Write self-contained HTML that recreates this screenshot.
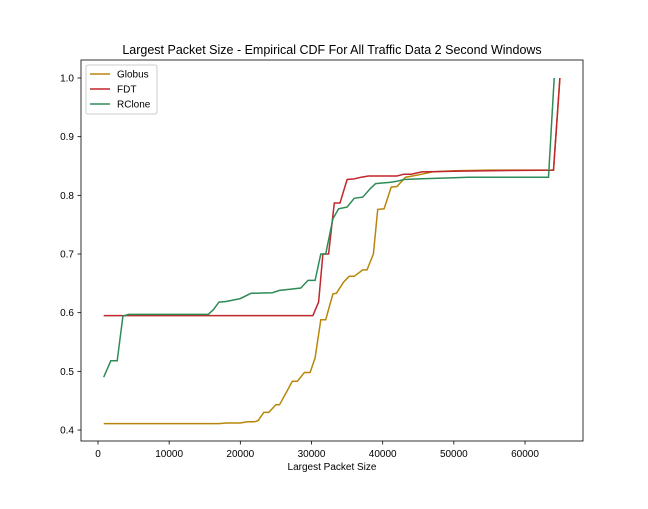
<!DOCTYPE html>
<html><head><meta charset="utf-8"><style>
body{margin:0;background:#fff;font-family:"Liberation Sans","DejaVu Sans",sans-serif}
</style></head><body>
<svg id="c" width="648" height="504" xmlns="http://www.w3.org/2000/svg" font-family="Liberation Sans, DejaVu Sans, sans-serif">
<rect width="648" height="504" fill="#fff"/>
<text x="332" y="54" text-anchor="middle" font-size="12.5">Largest Packet Size - Empirical CDF For All Traffic Data 2 Second Windows</text>
<text x="332" y="470" text-anchor="middle" font-size="10">Largest Packet Size</text>
<g id="ticks"></g>
<g id="lines"></g>
<rect x="81" y="60" width="502" height="381" fill="none" stroke="#000" stroke-width="0.8"/>
<g>
<rect x="86" y="65" width="71" height="49" fill="#fff" stroke="#ccc" rx="2"/>
<g id="leg"></g>
</g>
</svg>
<script>
const xTicks=[0,10000,20000,30000,40000,50000,60000];
const yTicks=[0.4,0.5,0.6,0.7,0.8,0.9,1.0];
const seriesNames=["Globus","FDT","RClone"];
const seriesColors=["#b8860b","#c0272d","#2e8b57"];
const globusX=[800,17000,18000,20000,21000,22000,22500,23300,24000,25000,25500,26500,27300,28000,29000,29800,30500,31300,32000,33000,33500,34500,35300,36000,37200,37800,38700,39300,40200,41200,42000,43200,44200,45500,47000,50000,55000,64000,64900];
const globusY=[.411,.411,.412,.412,.414,.414,.416,.430,.430,.443,.443,.465,.483,.483,.498,.498,.523,.588,.588,.632,.633,.652,.662,.662,.673,.673,.700,.776,.777,.814,.815,.831,.833,.836,.840,.842,.843,.843,1.0];
const fdtX=[800,30200,31000,31600,32400,33200,34000,35000,36000,37000,38000,42000,43000,44000,45500,50000,55000,64000,64900];
const fdtY=[.595,.595,.618,.700,.700,.787,.787,.827,.828,.831,.833,.833,.836,.836,.840,.841,.842,.843,1.0];
const rcloneX=[800,1800,2700,3500,4300,15500,16200,17000,18000,20000,21500,24500,25500,27000,28500,29500,30500,31300,32000,33000,33800,35000,36000,37200,38300,39000,41000,42000,43000,45000,50000,52000,63300,64100];
const rcloneY=[.490,.518,.518,.594,.597,.597,.605,.618,.619,.624,.633,.634,.638,.640,.642,.655,.655,.700,.700,.760,.777,.780,.795,.797,.812,.820,.822,.824,.827,.828,.830,.831,.831,1.0];
const sx=v=>98+v*0.007117;
const sy=v=>78+(1-v)*586.7;
const NS="http://www.w3.org/2000/svg";
function mk(t,a,p){const e=document.createElementNS(NS,t);for(const k in a)e.setAttribute(k,a[k]);p.appendChild(e);return e;}
const tg=document.getElementById('ticks');
xTicks.forEach(v=>{const x=sx(v);
const l=mk('line',{x1:x,x2:x,y1:441,y2:444.5,stroke:'#000','stroke-width':0.8},tg);


const t=mk('text',{x:x,y:457,'text-anchor':'middle','font-size':10},tg);t.textContent=v;

});
yTicks.forEach(v=>{const y=sy(v);
const l=mk('line',{x1:77.5,x2:81,y1:y,y2:y,stroke:'#000','stroke-width':0.8},tg);


const t=mk('text',{x:74,y:y+3.5,'text-anchor':'end','font-size':10},tg);t.textContent=v.toFixed(1);

});
const lg=document.getElementById('lines');
const data=[[globusX,globusY],[fdtX,fdtY],[rcloneX,rcloneY]];
data.forEach((d,i)=>{const pts=d[0].map((x,j)=>sx(x).toFixed(1)+','+sy(d[1][j]).toFixed(1)).join(' ');
const p=mk('polyline',{points:pts,fill:'none',stroke:seriesColors[i],'stroke-width':1.5},lg);

});
const leg=document.getElementById('leg');
seriesNames.forEach((n,i)=>{const y=74+i*15;
const l=mk('line',{x1:90,x2:110,y1:y,y2:y,stroke:seriesColors[i],'stroke-width':1.5},leg);


const t=mk('text',{x:117,y:y+3.5,'font-size':10},leg);t.textContent=n;

});
</script>
</body></html>
